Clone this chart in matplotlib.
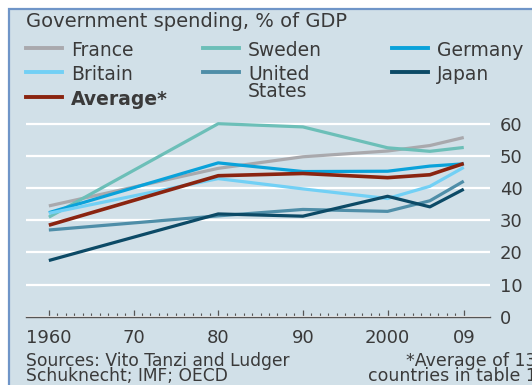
# Gasto público como % del PIB, 1960-2009
import numpy as np
import matplotlib.pyplot as plt
from matplotlib.lines import Line2D
from matplotlib.patches import Rectangle
from matplotlib.ticker import FixedLocator

# Datos
years = [1960, 1980, 1990, 2000, 2005, 2009]
france = [34.5, 46.2, 49.8, 51.6, 53.3, 55.8]
sweden = [31.0, 60.1, 59.1, 52.6, 51.5, 52.7]
germany = [32.4, 47.9, 45.2, 45.3, 46.9, 47.6]
britain = [32.2, 43.0, 39.8, 36.8, 40.6, 46.5]
united_states = [27.0, 31.4, 33.4, 32.8, 36.1, 42.2]
japan = [17.5, 32.0, 31.3, 37.5, 34.2, 39.7]
average = [28.5, 43.9, 44.6, 43.3, 44.2, 47.7]

names = ["France", "Sweden", "Germany", "Britain", "United\nStates", "Japan", "Average*"]
series = [france, sweden, germany, britain, united_states, japan, average]
colors = ["#a9a9ad", "#6cbfb8", "#0aa2da", "#72d0f5", "#4f8ea8", "#0c4a66", "#8a2410"]

bg = "#d1e0e8"
txt = "#3a3a3a"

W, H = 532, 385
fig = plt.figure(figsize=(W / 100, H / 100), dpi=100)
fig.patch.set_facecolor("white")

# coordenadas en pixeles -> fraccion de la figura
def fx(px):
    return px / W

def fy(py):
    return 1 - py / H

# panel de fondo con borde azul
fig.add_artist(Rectangle((fx(9), fy(400)), fx(560), 391 / H, transform=fig.transFigure,
                         facecolor=bg, edgecolor="#6f95c8", linewidth=1.6, zorder=0))

ax = fig.add_axes([fx(26), fy(316.7), fx(490) - fx(26), fy(117.6) - fy(316.7)])
ax.set_facecolor("none")

# orden de dibujo
order = [1, 2, 3, 4, 5, 0, 6]
for i in order:
    lw = 2.6 if i == 6 else 2.3
    ax.plot(years, series[i], color=colors[i], linewidth=lw, solid_capstyle="butt", zorder=3 + i)

ax.set_xlim(1957.3, 2012.1)
ax.set_ylim(0, 62)

ax.set_yticks([0, 10, 20, 30, 40, 50, 60])
ax.yaxis.tick_right()
ax.tick_params(axis="y", length=0, pad=7, labelsize=13, labelcolor=txt)
ax.grid(axis="y", color="white", linewidth=1.6)
ax.set_axisbelow(True)

ax.set_xticks([1960, 1970, 1980, 1990, 2000, 2009])
ax.set_xticklabels(["1960", "70", "80", "90", "2000", "09"])
ax.xaxis.set_minor_locator(FixedLocator(range(1960, 2010)))
ax.tick_params(axis="x", which="major", direction="in", length=5, width=0.9,
               color="#555555", pad=9, labelsize=13, labelcolor=txt)
ax.tick_params(axis="x", which="minor", direction="in", length=3, width=0.8, color="#555555")

for s in ["top", "left", "right"]:
    ax.spines[s].set_visible(False)
ax.spines["bottom"].set_color("#555555")
ax.spines["bottom"].set_linewidth(1.0)

# Titulo
fig.text(fx(26), fy(27), "Government spending, % of GDP", fontsize=14, color=txt, va="baseline")

# Leyenda
legend_pos = [(26, 48), (203, 48), (392, 48), (26, 72), (203, 72), (392, 72), (26, 97)]
for (x0, y0), name, c in zip(legend_pos, names, colors):
    fig.add_artist(Line2D([fx(x0), fx(x0 + 36)], [fy(y0), fy(y0)], transform=fig.transFigure,
                          color=c, linewidth=2.8))
    weight = "bold" if name.startswith("Average") else "normal"
    fig.text(fx(x0 + 45), fy(y0 - 7), name, fontsize=13.5, color=txt, fontweight=weight,
             va="top", linespacing=0.85)

# Fuentes y nota
fig.text(fx(26), fy(352), "Sources: Vito Tanzi and Ludger\nSchuknecht; IMF; OECD",
         fontsize=12.3, color=txt, va="top", linespacing=0.8)
fig.text(fx(537), fy(352), "*Average of 13\ncountries in table 1", fontsize=12.5, color=txt,
         va="top", ha="right", multialignment="right", linespacing=0.8)

plt.savefig("out.png", dpi=100, facecolor=fig.get_facecolor())
